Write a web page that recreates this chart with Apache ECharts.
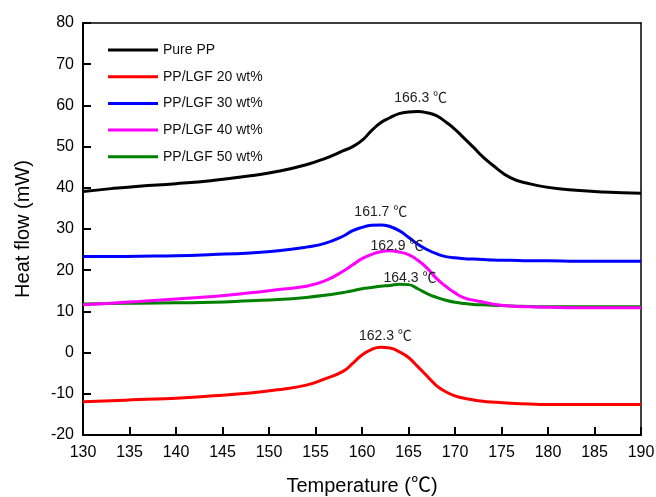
<!DOCTYPE html>
<html>
<head>
<meta charset="utf-8">
<script src="https://cdn.jsdelivr.net/npm/echarts@6/dist/echarts.min.js"></script>
<style>
  html, body { margin: 0; padding: 0; background: #fff; }
  #chart { width: 656px; height: 497px; }
</style>
</head>
<body>
<div id="chart"></div>
<script>
// temperatures (°C) shared by every curve
const temps = [130, 133, 136, 140, 144, 148, 151, 154, 156, 158, 159, 160, 161, 162, 163, 164,
  165, 166, 167, 168, 169, 170, 171, 172, 173, 174, 176, 178, 180, 183, 186, 190];

const seriesNames = ['Pure PP', 'PP/LGF 20 wt%', 'PP/LGF 30 wt%', 'PP/LGF 40 wt%', 'PP/LGF 50 wt%'];

// heat flow (mW)
const purePP = [39.1, 39.8, 40.4, 41.0, 41.8, 42.9, 44.0, 45.6, 47.1, 49.0, 50.0, 51.5, 53.8, 55.8, 57.0, 58.0,
  58.4, 58.5, 58.2, 57.5, 56.0, 54.2, 52.0, 49.8, 47.5, 45.6, 42.4, 41.0, 40.1, 39.4, 39.0, 38.7];
const lgf20 = [-11.9, -11.7, -11.4, -11.1, -10.5, -9.8, -9.0, -7.9, -6.4, -4.5, -2.6, -0.6, 0.7, 1.3, 1.1, 0.2,
  -1.2, -3.4, -5.7, -8.0, -9.5, -10.5, -11.1, -11.5, -11.8, -12.0, -12.3, -12.5, -12.6, -12.6, -12.6, -12.6];
const lgf30 = [23.3, 23.3, 23.4, 23.5, 23.8, 24.2, 24.7, 25.6, 26.5, 28.3, 29.6, 30.4, 30.9, 31.0, 30.6, 29.6,
  28.0, 26.3, 25.0, 24.0, 23.3, 23.0, 22.8, 22.7, 22.6, 22.5, 22.4, 22.3, 22.3, 22.2, 22.2, 22.2];
const lgf40 = [11.6, 12.0, 12.4, 13.0, 13.6, 14.5, 15.3, 16.1, 17.4, 19.8, 21.3, 22.8, 23.8, 24.5, 24.7, 24.4,
  23.8, 22.4, 20.5, 18.0, 16.1, 14.5, 13.3, 12.7, 12.3, 11.8, 11.3, 11.1, 11.0, 10.9, 10.9, 10.9];
const lgf50 = [11.8, 11.9, 12.0, 12.1, 12.2, 12.6, 12.9, 13.4, 13.9, 14.6, 15.0, 15.5, 15.8, 16.1, 16.3, 16.6,
  16.5, 15.5, 14.3, 13.4, 12.7, 12.2, 11.9, 11.7, 11.6, 11.5, 11.3, 11.2, 11.1, 11.1, 11.1, 11.1];

// peak temperatures and heights for the annotations
const peakTemps = [166.3, 162.3, 161.7, 162.9, 164.3];
const peakValues = [58.5, 1.3, 31.0, 24.7, 16.6];

const allValues = [purePP, lgf20, lgf30, lgf40, lgf50];
const colors = ['#000000', '#ff0000', '#0000ff', '#ff00ff', '#008000'];
const labelOffsets = [[0, -13], [2, -11], [3, -13], [8, -5], [8, -6]];

const font = "'Liberation Sans', Arial, 'Noto Sans CJK SC', sans-serif";

const chart = echarts.init(document.getElementById('chart'));

const series = seriesNames.map((name, i) => ({
  name: name,
  type: 'line',
  smooth: 0.5,
  symbol: 'none',
  z: 5 - i,
  lineStyle: { color: colors[i], width: 3 },
  itemStyle: { color: colors[i] },
  data: temps.map((t, k) => [t, allValues[i][k]]),
  markPoint: {
    symbol: 'circle',
    symbolSize: 1,
    itemStyle: { color: 'rgba(0,0,0,0)' },
    label: {
      show: true,
      position: 'inside',
      offset: labelOffsets[i],
      color: '#222',
      fontSize: 14,
      fontFamily: font,
      formatter: (p) => p.data.value
    },
    data: [{ coord: [peakTemps[i], peakValues[i]], value: peakTemps[i].toFixed(1) + ' ℃' }]
  }
}));

// plain frame axes on top and right
const frameAxis = {
  show: true,
  axisLine: { show: true, onZero: false, lineStyle: { color: '#000', width: 1.5 } },
  axisTick: { show: false },
  axisLabel: { show: false },
  splitLine: { show: false }
};

const option = {
  backgroundColor: '#fff',
  animation: false,
  grid: {
    left: 83, right: 15, top: 23, bottom: 62,
    outerBoundsMode: 'none',
    containLabel: false
  },
  legend: {
    orient: 'vertical',
    left: 103,
    top: 38,
    icon: 'rect',
    itemWidth: 50,
    itemHeight: 3,
    itemGap: 12.7,
    textStyle: { fontSize: 14, lineHeight: 14, fontFamily: font, color: '#111' },
    data: seriesNames
  },
  xAxis: [{
    type: 'value',
    position: 'bottom',
    min: 130, max: 190, interval: 5,
    name: 'Temperature (℃)',
    nameLocation: 'middle',
    nameGap: 41,
    nameTextStyle: { fontSize: 20, fontFamily: font, color: '#000' },
    axisLine: { show: true, onZero: false, lineStyle: { color: '#000', width: 2 } },
    axisTick: { show: true, inside: true, length: 8, lineStyle: { color: '#000', width: 2 } },
    axisLabel: { fontSize: 16, fontFamily: font, color: '#000', margin: 10 },
    splitLine: { show: false }
  }, Object.assign({ type: 'value', position: 'top', min: 130, max: 190 }, frameAxis)],
  yAxis: [{
    type: 'value',
    position: 'left',
    min: -20, max: 80, interval: 10,
    name: 'Heat flow (mW)',
    nameLocation: 'middle',
    nameGap: 50,
    nameTextStyle: { fontSize: 20, fontFamily: font, color: '#000' },
    axisLine: { show: true, onZero: false, lineStyle: { color: '#000', width: 2 } },
    axisTick: { show: true, inside: true, length: 8, lineStyle: { color: '#000', width: 2 } },
    axisLabel: { fontSize: 16, fontFamily: font, color: '#000', margin: 9 },
    splitLine: { show: false }
  }, Object.assign({ type: 'value', position: 'right', min: -20, max: 80 }, frameAxis)],
  series: series
};

chart.setOption(option);
</script>
</body>
</html>
